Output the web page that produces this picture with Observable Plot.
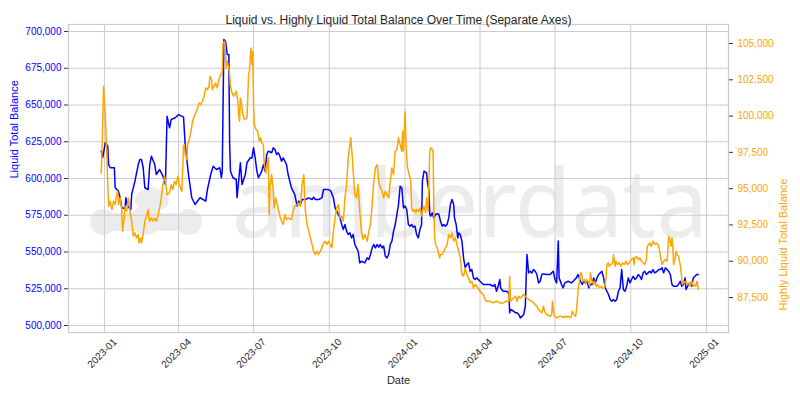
<!DOCTYPE html>
<html>
<head>
<meta charset="utf-8">
<script src="https://cdn.jsdelivr.net/npm/d3@7"></script>
<script src="https://cdn.jsdelivr.net/npm/@observablehq/plot@0.6"></script>
<style>
  html, body { margin: 0; padding: 0; background: #fff; }
  #wrap { position: relative; width: 800px; height: 400px; background: #fff; overflow: hidden; }
  #wm { position: absolute; left: 0; top: 0; }
  #chart { position: absolute; left: 0; top: 0; }
</style>
</head>
<body>
<div id="wrap">
  <svg id="wm" width="800" height="400">
    <g fill="#ececec">
      <circle cx="103" cy="222" r="13"></circle>
      <circle cx="146" cy="220" r="15"></circle>
      <circle cx="189" cy="222" r="13"></circle>
      <rect x="103" y="213" width="86" height="18"></rect>
      <circle cx="152" cy="197" r="10"></circle>
      <rect x="135" y="190" width="34" height="20" rx="10"></rect>
    </g>
    <text x="232" y="237" font-family="'Noto Sans', 'Open Sans', sans-serif" font-size="95" fill="#ececec" textLength="476" lengthAdjust="spacingAndGlyphs">amberdata</text>
  </svg>
  <div id="chart"></div>
</div>
<script>
// ---- Data ----
const liquidDates = [
"2022-12-28","2022-12-30","2023-01-02","2023-01-05","2023-01-06","2023-01-08","2023-01-13","2023-01-14","2023-01-18","2023-01-20",
"2023-01-22","2023-01-26","2023-01-27","2023-01-29","2023-02-02","2023-02-03","2023-02-07","2023-02-11","2023-02-13","2023-02-15",
"2023-02-17","2023-02-19","2023-02-23","2023-02-25","2023-02-27","2023-03-03","2023-03-05","2023-03-09","2023-03-13","2023-03-16",
"2023-03-18","2023-03-21","2023-03-23","2023-03-28","2023-04-01","2023-04-07","2023-04-09","2023-04-13","2023-04-17","2023-04-21",
"2023-04-27","2023-05-04","2023-05-06","2023-05-10","2023-05-13","2023-05-17","2023-05-21","2023-05-23","2023-05-24","2023-05-26",
"2023-05-28","2023-05-30","2023-06-01","2023-06-02","2023-06-03","2023-06-06","2023-06-10","2023-06-11","2023-06-15","2023-06-17",
"2023-06-21","2023-06-23","2023-06-27","2023-06-29","2023-07-01","2023-07-03","2023-07-05","2023-07-07","2023-07-09","2023-07-11",
"2023-07-13","2023-07-15","2023-07-17","2023-07-19","2023-07-23","2023-07-25","2023-07-27","2023-07-29","2023-07-31","2023-08-02",
"2023-08-04","2023-08-06","2023-08-08","2023-08-10","2023-08-12","2023-08-14","2023-08-16","2023-08-18","2023-08-20","2023-08-23",
"2023-08-25","2023-08-27","2023-08-29","2023-09-02","2023-09-06","2023-09-10","2023-09-12","2023-09-14","2023-09-18","2023-09-22",
"2023-09-24","2023-09-30","2023-10-03","2023-10-06","2023-10-08","2023-10-10","2023-10-12","2023-10-14","2023-10-16","2023-10-18",
"2023-10-20","2023-10-22","2023-10-24","2023-10-26","2023-10-28","2023-10-30","2023-11-01","2023-11-03","2023-11-05","2023-11-07",
"2023-11-09","2023-11-13","2023-11-16","2023-11-18","2023-11-20","2023-11-22","2023-11-24","2023-11-26","2023-11-28","2023-11-30",
"2023-12-02","2023-12-04","2023-12-06","2023-12-08","2023-12-10","2023-12-12","2023-12-14","2023-12-16","2023-12-18","2023-12-20",
"2023-12-22","2023-12-24","2023-12-26","2023-12-28","2023-12-30","2024-01-01","2024-01-03","2024-01-05","2024-01-07","2024-01-09",
"2024-01-11","2024-01-13","2024-01-15","2024-01-17","2024-01-19","2024-01-21","2024-01-22","2024-01-24","2024-01-27","2024-01-28",
"2024-01-30","2024-01-31","2024-02-01","2024-02-03","2024-02-05","2024-02-07","2024-02-09","2024-02-11","2024-02-13","2024-02-15",
"2024-02-17","2024-02-19","2024-02-21","2024-02-23","2024-02-25","2024-02-27","2024-02-29","2024-03-01","2024-03-03","2024-03-05",
"2024-03-06","2024-03-08","2024-03-10","2024-03-12","2024-03-14","2024-03-16","2024-03-18","2024-03-20","2024-03-22","2024-03-24",
"2024-03-26","2024-03-28","2024-04-01","2024-04-05","2024-04-09","2024-04-13","2024-04-17","2024-04-19","2024-04-21","2024-04-23",
"2024-04-25","2024-04-26","2024-04-29","2024-05-03","2024-05-06","2024-05-07","2024-05-08","2024-05-12","2024-05-14","2024-05-16",
"2024-05-18","2024-05-20","2024-05-24","2024-05-26","2024-05-27","2024-05-28","2024-05-30","2024-06-01","2024-06-03","2024-06-05",
"2024-06-07","2024-06-09","2024-06-11","2024-06-13","2024-06-15","2024-06-17","2024-06-21","2024-06-25","2024-06-27","2024-06-29",
"2024-07-01","2024-07-03","2024-07-05","2024-07-06","2024-07-09","2024-07-11","2024-07-13","2024-07-17","2024-07-21","2024-07-23",
"2024-07-25","2024-07-27","2024-07-29","2024-08-01","2024-08-03","2024-08-05","2024-08-07","2024-08-09","2024-08-11","2024-08-13",
"2024-08-15","2024-08-17","2024-08-19","2024-08-21","2024-08-23","2024-08-25","2024-08-27","2024-08-29","2024-08-31","2024-09-02",
"2024-09-04","2024-09-06","2024-09-08","2024-09-10","2024-09-12","2024-09-14","2024-09-16","2024-09-18","2024-09-20","2024-09-22",
"2024-09-24","2024-09-26","2024-09-28","2024-09-30","2024-10-02","2024-10-04","2024-10-06","2024-10-08","2024-10-10","2024-10-12",
"2024-10-14","2024-10-16","2024-10-18","2024-10-20","2024-10-22","2024-10-24","2024-10-26","2024-10-28","2024-10-30","2024-11-02",
"2024-11-04","2024-11-06","2024-11-08","2024-11-10","2024-11-12","2024-11-14","2024-11-16","2024-11-18","2024-11-20","2024-11-22",
"2024-11-24","2024-11-26","2024-11-28","2024-11-30","2024-12-02","2024-12-04","2024-12-06","2024-12-07","2024-12-08","2024-12-10",
"2024-12-12","2024-12-14","2024-12-16","2024-12-18","2024-12-20","2024-12-22"
];
const liquidValues = [
618600,614500,624300,622000,609500,607300,607300,593700,591400,586900,
580100,579600,586900,581200,578900,589100,598200,609500,612900,612900,
607300,593700,592500,609500,615200,609500,602700,606100,601600,595900,
642400,634500,640100,641300,643500,641700,623100,602700,586900,582300,
586900,584600,592500,602700,608400,606100,607300,600500,605000,694600,
693400,684400,684400,623100,605000,600500,599300,586900,610700,595900,
602700,610700,614100,614000,620900,614000,605000,600500,602700,605000,
609500,605000,616300,618600,617500,620900,619700,616300,617500,615200,
611800,614000,611800,609500,602700,598200,593600,591400,589100,581200,
584600,582300,585700,585700,586800,585700,587300,585700,585700,586800,
592500,592500,591400,586800,580000,577800,575500,573200,568700,565300,
568700,564200,561900,563000,559600,561900,555100,552800,550500,542600,
543700,542600,546000,544900,548300,552800,555100,552800,555100,553300,
555100,552800,554000,547100,546000,548300,555100,557400,564200,568700,
575500,582300,594800,593600,580000,581200,578900,568700,567600,568700,
566900,567600,561900,559600,565300,568700,598200,605000,603900,598200,
591400,575500,574400,576600,573200,575500,576000,575500,571000,567600,
568700,567600,568700,573200,582300,585700,582300,573200,568700,559600,
563000,561900,557400,546000,539200,541500,542600,536900,538100,532400,
531300,532400,530100,527900,527900,527900,526700,527900,523300,526700,
531300,525600,523300,523300,522200,508600,510900,509700,508600,508600,
507500,505200,507500,513100,532400,548300,535800,536900,535800,538100,
536900,534700,529000,530100,534700,535100,534700,534700,535800,536900,
531300,529000,557400,532400,527900,525600,529000,530100,529000,530100,
531300,532400,534700,530100,527900,530100,529000,530100,525600,527900,
527900,532400,529000,532400,534700,535800,536900,532400,525600,523300,
521100,517700,516500,517700,516500,517700,523300,525600,538100,524500,
523300,526700,532400,529000,531300,533500,531300,532400,534700,533500,
531300,535800,536900,534700,535800,536900,535800,538100,535800,536900,
538100,538100,539200,535800,539200,538100,536900,534700,527900,526700,
526700,526700,527900,530100,526700,527900,532400,524500,525600,527900,
529000,526700,532400,533500,534700,534700
];

const highlyDates = [
"2022-12-28","2022-12-29","2022-12-31","2023-01-01","2023-01-02","2023-01-04","2023-01-05","2023-01-06","2023-01-08","2023-01-10",
"2023-01-12","2023-01-14","2023-01-15","2023-01-17","2023-01-18","2023-01-20","2023-01-22","2023-01-23","2023-01-25","2023-01-26",
"2023-01-28","2023-01-30","2023-02-01","2023-02-03","2023-02-05","2023-02-07","2023-02-09","2023-02-11","2023-02-12","2023-02-14",
"2023-02-15","2023-02-17","2023-02-19","2023-02-21","2023-02-23","2023-02-24","2023-02-25","2023-02-27","2023-03-01","2023-03-03",
"2023-03-05","2023-03-07","2023-03-09","2023-03-11","2023-03-13","2023-03-15","2023-03-16","2023-03-18","2023-03-21","2023-03-23",
"2023-03-25","2023-03-27","2023-03-29","2023-03-31","2023-04-02","2023-04-04","2023-04-05","2023-04-07","2023-04-08","2023-04-09",
"2023-04-11","2023-04-12","2023-04-14","2023-04-16","2023-04-18","2023-04-20","2023-04-22","2023-04-24","2023-04-26","2023-04-28",
"2023-04-30","2023-05-02","2023-05-04","2023-05-06","2023-05-08","2023-05-09","2023-05-11","2023-05-12","2023-05-14","2023-05-16",
"2023-05-18","2023-05-20","2023-05-22","2023-05-24","2023-05-25","2023-05-27","2023-05-29","2023-05-30","2023-06-01","2023-06-02",
"2023-06-03","2023-06-05","2023-06-07","2023-06-10","2023-06-12","2023-06-13","2023-06-14","2023-06-15","2023-06-16","2023-06-18",
"2023-06-20","2023-06-23","2023-06-24","2023-06-25","2023-06-26","2023-06-27","2023-06-28","2023-06-29","2023-06-30","2023-07-01",
"2023-07-02","2023-07-04","2023-07-06","2023-07-08","2023-07-10","2023-07-11","2023-07-13","2023-07-14","2023-07-16","2023-07-17",
"2023-07-19","2023-07-20","2023-07-21","2023-07-23","2023-07-25","2023-07-26","2023-07-28","2023-07-30","2023-07-31","2023-08-02",
"2023-08-04","2023-08-06","2023-08-08","2023-08-10","2023-08-12","2023-08-16","2023-08-18","2023-08-20","2023-08-23","2023-08-25",
"2023-08-27","2023-08-29","2023-08-31","2023-09-01","2023-09-02","2023-09-04","2023-09-06","2023-09-08","2023-09-10","2023-09-12",
"2023-09-14","2023-09-16","2023-09-18","2023-09-20","2023-09-22","2023-09-24","2023-09-26","2023-09-28","2023-09-30","2023-10-02",
"2023-10-04","2023-10-06","2023-10-08","2023-10-10","2023-10-12","2023-10-14","2023-10-16","2023-10-18","2023-10-20","2023-10-22",
"2023-10-24","2023-10-26","2023-10-27","2023-10-29","2023-10-30","2023-11-01","2023-11-03","2023-11-05","2023-11-07","2023-11-09",
"2023-11-11","2023-11-13","2023-11-16","2023-11-18","2023-11-20","2023-11-22","2023-11-24","2023-11-26","2023-11-28","2023-11-30",
"2023-12-02","2023-12-04","2023-12-06","2023-12-08","2023-12-10","2023-12-12","2023-12-14","2023-12-16","2023-12-18","2023-12-20",
"2023-12-22","2023-12-24","2023-12-26","2023-12-28","2023-12-29","2023-12-30","2024-01-01","2024-01-02","2024-01-03","2024-01-04",
"2024-01-05","2024-01-06","2024-01-08","2024-01-09","2024-01-10","2024-01-12","2024-01-14","2024-01-15","2024-01-17","2024-01-19",
"2024-01-21","2024-01-22","2024-01-24","2024-01-26","2024-01-27","2024-01-29","2024-01-31","2024-02-01","2024-02-03","2024-02-04",
"2024-02-05","2024-02-06","2024-02-07","2024-02-09","2024-02-11","2024-02-12","2024-02-13","2024-02-15","2024-02-17","2024-02-19",
"2024-02-21","2024-02-23","2024-02-25","2024-02-27","2024-02-29","2024-03-02","2024-03-04","2024-03-06","2024-03-08","2024-03-10",
"2024-03-12","2024-03-14","2024-03-16","2024-03-18","2024-03-20","2024-03-22","2024-03-24","2024-03-26","2024-03-28","2024-04-01",
"2024-04-05","2024-04-07","2024-04-09","2024-04-13","2024-04-17","2024-04-21","2024-04-25","2024-04-29","2024-05-03","2024-05-06",
"2024-05-07","2024-05-08","2024-05-12","2024-05-14","2024-05-16","2024-05-18","2024-05-20","2024-05-24","2024-05-28","2024-05-30",
"2024-06-03","2024-06-05","2024-06-07","2024-06-09","2024-06-11","2024-06-13","2024-06-15","2024-06-17","2024-06-19","2024-06-21",
"2024-06-25","2024-06-27","2024-06-28","2024-06-30","2024-07-03","2024-07-07","2024-07-09","2024-07-11","2024-07-13","2024-07-15",
"2024-07-17","2024-07-19","2024-07-21","2024-07-22","2024-07-24","2024-07-26","2024-07-27","2024-07-29","2024-07-30","2024-08-01",
"2024-08-02","2024-08-03","2024-08-04","2024-08-06","2024-08-07","2024-08-09","2024-08-10","2024-08-12","2024-08-13","2024-08-15",
"2024-08-17","2024-08-18","2024-08-20","2024-08-22","2024-08-24","2024-08-26","2024-08-28","2024-08-30","2024-09-01","2024-09-02",
"2024-09-04","2024-09-05","2024-09-07","2024-09-09","2024-09-10","2024-09-12","2024-09-13","2024-09-15","2024-09-17","2024-09-19",
"2024-09-21","2024-09-23","2024-09-25","2024-09-27","2024-09-29","2024-10-02","2024-10-04","2024-10-05","2024-10-06","2024-10-08",
"2024-10-10","2024-10-12","2024-10-14","2024-10-16","2024-10-18","2024-10-20","2024-10-21","2024-10-23","2024-10-24","2024-10-26",
"2024-10-28","2024-10-29","2024-10-31","2024-11-02","2024-11-04","2024-11-06","2024-11-08","2024-11-10","2024-11-12","2024-11-14",
"2024-11-15","2024-11-16","2024-11-17","2024-11-19","2024-11-20","2024-11-21","2024-11-22","2024-11-24","2024-11-25","2024-11-26",
"2024-11-28","2024-11-30","2024-12-01","2024-12-03","2024-12-04","2024-12-06","2024-12-07","2024-12-09","2024-12-11","2024-12-12",
"2024-12-14","2024-12-16","2024-12-17","2024-12-19","2024-12-20","2024-12-21","2024-12-22"
];
const highlyValues = [
96080,97580,102050,101020,100100,97120,95280,93790,94130,93560,
94130,93900,94360,94820,93900,94360,93560,92070,92980,93790,
93440,94360,93440,92760,91720,91950,91610,91840,91260,91610,
91260,91840,92760,93100,93560,92980,92760,92980,92760,92980,
92760,93100,93670,94360,95280,95850,95510,94590,94710,95280,
94940,95510,95280,95850,95280,94940,94820,97920,98040,97350,
97000,98040,98380,98950,99640,99990,100220,100560,100910,100790,
101020,101370,101940,101820,102050,102740,102510,101820,102050,102280,
101940,102510,102860,102970,105040,105150,103320,103780,103320,102860,
102050,101590,101370,101710,101020,100100,99640,101250,101020,100100,
99760,99870,101250,102860,103090,104000,104690,103550,104460,100790,
99410,99070,98950,98270,98500,98150,98040,96660,96080,96430,
97120,93210,95050,95970,94820,93670,94360,93900,93560,93100,
92760,92530,93210,92870,92980,92870,93440,93790,93900,94020,
93790,95280,95970,94590,93440,92530,92070,91610,91150,90690,
90460,90690,90460,90690,90920,91260,91380,91150,91380,91150,
90920,92070,92980,93670,93900,92980,93100,92760,94360,95280,
97120,98040,98500,97120,96200,94590,94360,95280,93440,92070,
91490,91840,91380,92070,92530,93900,95510,96430,96660,95510,
95050,94820,94360,94820,94590,94360,95510,96430,95970,97580,
97690,98500,98040,97580,98950,97600,100330,98250,97120,96430,
96200,95970,95510,93670,93440,93560,93330,93560,93440,93670,
93100,93440,93790,93330,94360,93440,97580,97810,97690,97580,
93440,91610,91150,90920,90460,90230,90460,90460,90690,90920,
91150,91840,91610,91950,91380,91610,91150,90690,90230,89080,
88970,89540,89080,88850,88510,88620,88160,88390,88280,87930,
87700,87360,87240,87240,87130,87240,87130,87130,87240,87240,
88970,87240,87470,87590,87240,87590,87470,87700,87470,87360,
87240,87130,87010,86900,86670,86560,86440,86900,86440,86330,
86210,86330,87240,86210,86100,86210,86210,86100,86210,86140,
86210,86100,86210,86560,86330,86210,86560,87930,88390,89200,
89200,88850,88620,88740,88510,88740,88620,88280,89200,88620,
88390,88620,88280,88390,88160,88280,88160,88160,88850,89770,
89890,89660,89770,89890,90460,89660,90000,89770,89890,89660,
89890,89770,90000,89770,89890,90110,90230,89770,90230,90340,
90110,90230,90000,89890,89770,90110,91030,91150,91260,91030,
91380,91260,91150,91260,91030,90340,89770,90000,90110,90000,
90690,91720,91610,91030,91610,91150,89770,90230,90690,90460,
90340,89770,89310,88390,88620,88510,88620,88390,88510,88280,
88620,88280,88390,88280,88620,88510,88050
];

const xTickDates = ["2023-01-01","2023-04-01","2023-07-01","2023-10-01","2024-01-01","2024-04-01","2024-07-01","2024-10-01","2025-01-01"];
const leftTicks = [500000,525000,550000,575000,600000,625000,650000,675000,700000];
const rightTicks = [87500,90000,92500,95000,97500,100000,102500,105000];

// ---- Build tables ----
const liquid = liquidDates.map((d, i) => ({date: new Date(d), value: liquidValues[i]}));
const highly = highlyDates.map((d, i) => ({date: new Date(d), value: highlyValues[i]}));
const xTicks = xTickDates.map(d => new Date(d));

const leftDomain = [495238, 704762];
const rightDomain = [85089, 106309];
const toLeft = d3.scaleLinear().domain(rightDomain).range(leftDomain);
const fmt = d3.format(",");
const fmtDate = d3.utcFormat("%Y-%m");
const txt = "#262626";

const chart = Plot.plot({
  width: 800,
  height: 400,
  marginTop: 24,
  marginBottom: 68,
  marginLeft: 68,
  marginRight: 72,
  style: {background: "transparent", fontFamily: "'Liberation Sans', Arial, sans-serif", fontSize: "10px", color: txt},
  x: {type: "utc", domain: [new Date("2022-11-18T08:00:00Z"), new Date("2025-01-27T16:00:00Z")], axis: null},
  y: {domain: leftDomain, axis: null},
  marks: [
    Plot.gridX(xTicks, {stroke: "#cccccc", strokeOpacity: 1, strokeWidth: 1}),
    Plot.gridY(leftTicks, {stroke: "#cccccc", strokeOpacity: 1, strokeWidth: 1}),
    Plot.frame({stroke: "#cccccc", strokeWidth: 1.25}),
    Plot.line(liquid, {x: "date", y: "value", stroke: "blue", strokeWidth: 1.5}),
    Plot.line(highly, {x: "date", y: d => toLeft(d.value), stroke: "orange", strokeWidth: 1.5}),
    Plot.axisY(leftTicks, {anchor: "left", tickSize: 4, tickPadding: 3, tickFormat: fmt, fill: "blue", stroke: "#333", label: null, fontSize: 10}),
    Plot.axisY(rightTicks.map(v => toLeft(v)), {anchor: "right", tickSize: 4, tickPadding: 5, tickFormat: v => fmt(Math.round(toLeft.invert(v))), fill: "orange", stroke: "#333", label: null, fontSize: 10}),
    Plot.text(xTicks, {x: d => d, frameAnchor: "bottom", dy: 23, rotate: -45, text: d => fmtDate(d), fill: txt, fontSize: 10}),
    Plot.text(["Date"], {frameAnchor: "bottom", dy: 51, text: d => d, fill: txt, fontSize: 11}),
    Plot.text(["Liquid Total Balance"], {frameAnchor: "left", dx: -54, rotate: -90, text: d => d, fill: "blue", fontSize: 11}),
    Plot.text(["Highly Liquid Total Balance"], {frameAnchor: "right", dx: 55, rotate: -90, text: d => d, fill: "orange", fontSize: 11}),
    Plot.text(["Liquid vs. Highly Liquid Total Balance Over Time (Separate Axes)"], {frameAnchor: "top", dy: -9, text: d => d, fill: txt, fontSize: 12})
  ]
});
document.getElementById("chart").appendChild(chart);
</script>
</body>
</html>
